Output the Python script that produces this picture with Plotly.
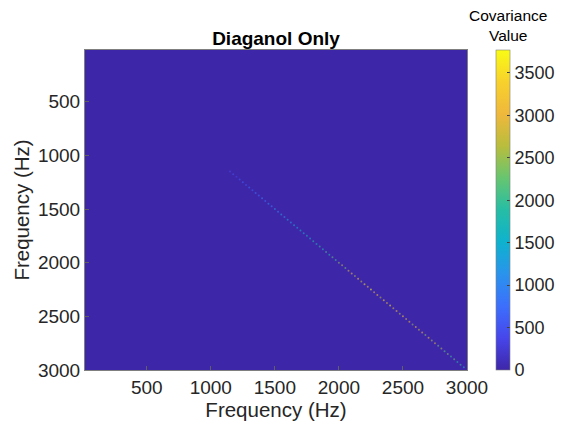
import plotly.graph_objects as go

# Frequency axis limits (Hz) and background (off-diagonal) covariance
freq_limits = [18, 3000]
background_z = [[0, 0], [0, 0]]

# Diagonal covariance values, sampled every 25 Hz from 1150 Hz
diag_freqs = list(range(1150, 3000, 25))
diag_values = [
    420, 510, 380, 560, 640, 470, 720, 610, 800, 690,
    930, 760, 1050, 880, 1180, 990, 1260, 1120, 1350, 1210,
    1470, 1330, 1580, 1420, 1690, 1510, 1820, 1640, 1950, 1760,
    2080, 1870, 2230, 2010, 2450, 2680, 2320, 2890, 3120, 2560,
    3350, 2740, 3580, 3010, 3770, 2870, 3260, 2640, 3440, 2930,
    3610, 2780, 3150, 2590, 3380, 2820, 3050, 2480, 3290, 2710,
    2960, 2390, 3120, 2550, 2840, 2270, 2630, 2150, 2420, 1980,
    2260, 1820, 2010, 1650,
]
cmin, cmax = 0, 3770
tick_vals = [500, 1000, 1500, 2000, 2500, 3000]
cbar_ticks = [0, 500, 1000, 1500, 2000, 2500, 3000, 3500]

parula = [
    [0.0, "#3e26a8"], [0.1, "#4746eb"], [0.2, "#3c6ffc"], [0.3, "#2a93ec"],
    [0.4, "#0eb2ce"], [0.5, "#26bda5"], [0.6, "#67c570"], [0.7, "#b9bd3d"],
    [0.8, "#efb83c"], [0.9, "#f8d12c"], [1.0, "#f9fb15"],
]

font = "Liberation Sans, Arial, Helvetica, sans-serif"
txt = "#262626"

L, R, T, B = 85, 467, 50, 370
PW, PH = R - L, B - T

fig = go.Figure()
fig.add_trace(go.Heatmap(
    x=freq_limits, y=freq_limits, z=background_z,
    coloraxis="coloraxis", hoverinfo="skip", zsmooth=False,
))
fig.add_trace(go.Scatter(
    x=diag_freqs, y=diag_freqs, mode="markers",
    marker=dict(size=2, color=diag_values, coloraxis="coloraxis",
                opacity=0.55, line=dict(width=0)),
    showlegend=False,
))

fig.update_layout(
    width=566, height=427,
    margin=dict(l=L, r=566 - R, t=T, b=427 - B, autoexpand=False),
    paper_bgcolor="white", plot_bgcolor="white",
    font=dict(family=font, color=txt),
    title=dict(text="<b>Diaganol Only</b>", x=(L + R) / 2 / 566, xanchor="center",
               y=1 - 38 / 427, yanchor="middle", font=dict(size=19, color="black")),
    coloraxis=dict(
        cmin=cmin, cmax=cmax, colorscale=parula,
        colorbar=dict(
            x=1 + (496 - R) / PW, xanchor="left", xpad=0,
            y=0.5, yanchor="middle", len=1, lenmode="fraction", ypad=0,
            thickness=14, outlinewidth=0.6, outlinecolor="#808080",
            tickvals=cbar_ticks, ticks="inside", ticklen=3, tickcolor="#404040",
            tickfont=dict(size=18, color=txt, family=font),
        ),
    ),
    xaxis=dict(
        range=freq_limits, tickvals=tick_vals, ticks="inside", ticklen=4,
        tickcolor="#606060", showline=True, linecolor="#7f7f7f", linewidth=1,
        mirror=True, showgrid=False, zeroline=False,
        tickfont=dict(size=19, color=txt),
        title=dict(text="Frequency (Hz)", font=dict(size=20.5, color=txt), standoff=4),
    ),
    yaxis=dict(
        range=[freq_limits[1], freq_limits[0]], tickvals=tick_vals, ticks="inside",
        ticklen=4, tickcolor="#606060", showline=True, linecolor="#7f7f7f",
        linewidth=1, mirror=True, showgrid=False, zeroline=False,
        tickfont=dict(size=19, color=txt),
        title=dict(text="Frequency (Hz)", font=dict(size=20.5, color=txt), standoff=2),
    ),
    annotations=[dict(
        text="Covariance<br>Value", x=(508 - L) / PW, y=1 + (T - 25) / PH,
        xref="paper", yref="paper", showarrow=False,
        font=dict(size=15.5, color="black"), xanchor="center", yanchor="middle",
    )],
)

fig.write_html("out.html")
